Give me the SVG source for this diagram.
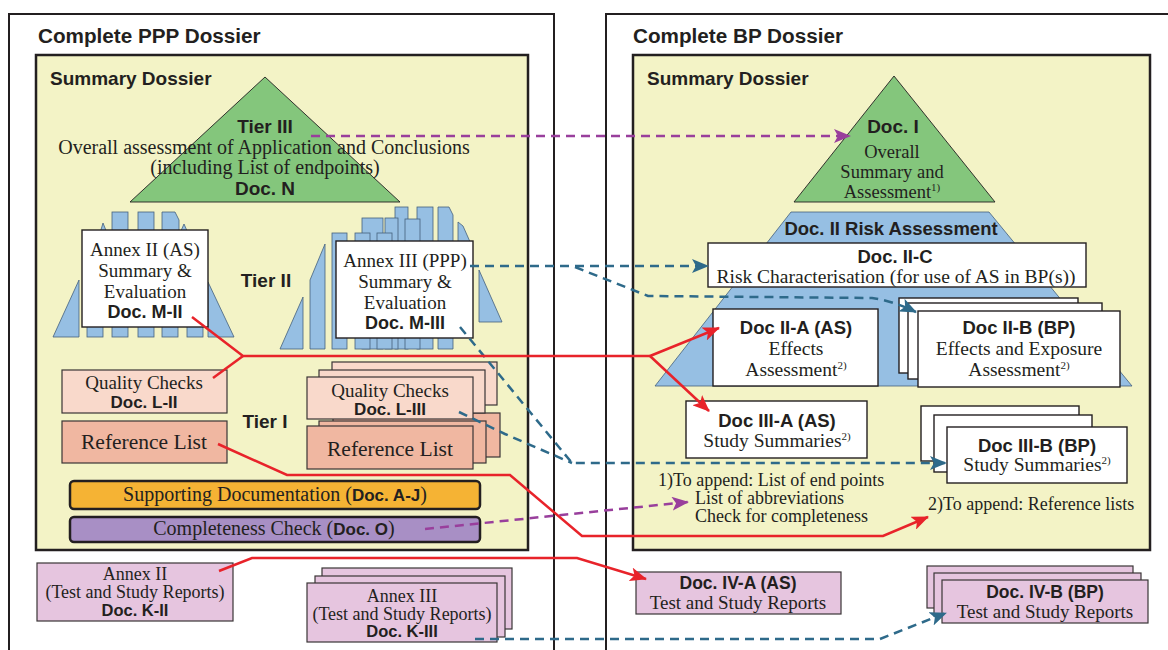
<svg xmlns="http://www.w3.org/2000/svg" width="1168" height="650" viewBox="0 0 1168 650">
  <style>
    .sb { font-family: "Liberation Sans", Arial, sans-serif; font-weight: bold; fill: #231f20; }
    .sr { font-family: "Liberation Serif", "Times New Roman", serif; fill: #231f20; }
    .frame { fill: #ffffff; stroke: #231f20; stroke-width: 2; }
    .yel { fill: #f3f3c6; stroke: #231f20; stroke-width: 2.5; }
    .grn { fill: #84c67c; stroke: #231f20; stroke-width: 0.9; }
    .blu { fill: #96bfe3; stroke: #44607c; stroke-width: 0.8; }
    .wbox { fill: #ffffff; stroke: #231f20; stroke-width: 1.4; }
    .qc { fill: #f9d9cb; stroke: #3a3536; stroke-width: 1.2; }
    .rl { fill: #f0b7a1; stroke: #3a3536; stroke-width: 1.2; }
    .mv { fill: #e6c5df; stroke: #3a3536; stroke-width: 1.2; }
    .red { fill: none; stroke: #e8232a; stroke-width: 2.5; }
    .pur { fill: none; stroke: #993f9c; stroke-width: 2.5; stroke-dasharray: 9 6; }
    .blue { fill: none; stroke: #2e6a8a; stroke-width: 2.5; stroke-dasharray: 9 6; }
    .sup { font-size: 11px; }
  </style>
  <defs>
    <marker id="ahRed" markerUnits="userSpaceOnUse" markerWidth="18" markerHeight="14" refX="16" refY="7" orient="auto">
      <path d="M0,0 L17,7 L0,14 L4,7 z" fill="#e8232a"/>
    </marker>
    <marker id="ahPur" markerUnits="userSpaceOnUse" markerWidth="18" markerHeight="14" refX="16" refY="7" orient="auto">
      <path d="M0,0 L17,7 L0,14 L4,7 z" fill="#993f9c"/>
    </marker>
    <marker id="ahBlue" markerUnits="userSpaceOnUse" markerWidth="18" markerHeight="14" refX="16" refY="7" orient="auto">
      <path d="M0,0 L17,7 L0,14 L4,7 z" fill="#2e6a8a"/>
    </marker>
  </defs>

  <rect width="1168" height="650" fill="#ffffff"/>

  <!-- ===== PPP dossier (left) ===== -->
  <g id="ppp-dossier">
    <rect class="frame" x="9" y="14" width="545" height="650"/>
    <text class="sb" x="38" y="43" font-size="20.7">Complete PPP Dossier</text>
    <rect class="yel" x="36" y="55" width="492" height="495"/>
    <text class="sb" x="50" y="85" font-size="19">Summary Dossier</text>
  </g>

  <g id="tier3-doc-n">
    <polygon class="grn" points="265,77 400,202 130,202"/>
    <text class="sb" x="265" y="133" font-size="19" text-anchor="middle">Tier III</text>
    <text class="sr" x="264" y="154" font-size="20" text-anchor="middle">Overall assessment of Application and Conclusions</text>
    <text class="sr" x="265" y="174" font-size="20" text-anchor="middle">(including List of endpoints)</text>
    <text class="sb" x="265" y="195" font-size="19" text-anchor="middle">Doc. N</text>
  </g>

  <g id="tier2-label">
    <text class="sb" x="266" y="287" font-size="19" text-anchor="middle">Tier II</text>
  </g>

  <!-- Annex II summary stack -->
  <g id="doc-m-ii">
    <g class="blu">
      <polygon points="53,337 79,280 79,337"/>
      <polygon points="208,282 234,337 208,337"/>
      <rect x="112" y="212" width="16" height="25"/>
      <rect x="138" y="212" width="16" height="25"/>
      <polygon points="162,212 175,212 179,220 179,237 162,237"/>
      <polygon points="100,233 103,223 107,233"/>
      <polygon points="180,233 184,224 188,233"/>
      <rect x="87" y="318" width="16" height="19"/>
      <rect x="112" y="318" width="16" height="19"/>
      <rect x="138" y="318" width="16" height="19"/>
      <rect x="162" y="318" width="16" height="19"/>
      <rect x="187" y="318" width="16" height="19"/>
    </g>
    <rect class="wbox" x="82" y="230" width="126" height="97"/>
    <text class="sr" x="145" y="256" font-size="19" text-anchor="middle">Annex II (AS)</text>
    <text class="sr" x="145" y="277" font-size="19" text-anchor="middle">Summary &amp;</text>
    <text class="sr" x="145" y="298" font-size="19" text-anchor="middle">Evaluation</text>
    <text class="sb" x="145" y="318" font-size="18" text-anchor="middle">Doc. M-II</text>
  </g>

  <!-- Annex III summary stack -->
  <g id="doc-m-iii">
    <g class="blu">
      <polygon points="280,349 303,297 303,349"/>
      <polygon points="310,349 310,280 325,244 325,349"/>
      <rect x="395" y="207" width="13" height="142"/>
      <rect x="417" y="207" width="16" height="142"/>
      <polygon points="438,207 449,207 453,215 453,349 438,349"/>
      <polygon points="458,222 463,226 471,244 458,244"/>
      <rect x="362" y="218" width="21" height="131"/>
      <rect x="385" y="218" width="13" height="131"/>
      <rect x="405" y="219" width="15" height="130"/>
      <rect x="332" y="233" width="15" height="116"/>
      <rect x="355" y="233" width="15" height="116"/>
      <rect x="377" y="233" width="15" height="116"/>
      <polygon points="479,270 502,322 479,322"/>
    </g>
    <rect class="wbox" x="336" y="241" width="137" height="97"/>
    <text class="sr" x="405" y="267" font-size="19" text-anchor="middle">Annex III (PPP)</text>
    <text class="sr" x="405" y="288" font-size="19" text-anchor="middle">Summary &amp;</text>
    <text class="sr" x="405" y="309" font-size="19" text-anchor="middle">Evaluation</text>
    <text class="sb" x="405" y="329" font-size="18" text-anchor="middle">Doc. M-III</text>
  </g>

  <g id="tier1-label">
    <text class="sb" x="265" y="428" font-size="19" text-anchor="middle">Tier I</text>
  </g>

  <g id="doc-l-ii">
    <rect class="qc" x="62" y="370" width="165" height="43"/>
    <text class="sr" x="144" y="389" font-size="19" text-anchor="middle">Quality Checks</text>
    <text class="sb" x="144" y="408" font-size="17" text-anchor="middle">Doc. L-II</text>
  </g>

  <g id="ref-list-ii">
    <rect class="rl" x="62" y="421" width="165" height="42"/>
    <text class="sr" x="144" y="449" font-size="21.5" text-anchor="middle">Reference List</text>
  </g>

  <!-- reference list pages sit behind the quality-check pages -->
  <g id="ref-list-iii">
    <rect class="rl" x="333" y="413" width="167" height="44"/>
    <rect class="rl" x="319" y="421" width="167" height="42"/>
    <rect class="rl" x="307" y="426" width="166" height="43"/>
    <text class="sr" x="390" y="456" font-size="21.5" text-anchor="middle">Reference List</text>
  </g>

  <g id="doc-l-iii">
    <rect class="qc" x="332" y="362" width="165" height="43"/>
    <rect class="qc" x="319" y="370" width="166" height="43"/>
    <rect class="qc" x="307" y="377" width="166" height="42"/>
    <text class="sr" x="390" y="397" font-size="19" text-anchor="middle">Quality Checks</text>
    <text class="sb" x="390" y="415" font-size="17" text-anchor="middle">Doc. L-III</text>
  </g>

  <g id="doc-a-j">
    <rect x="70" y="481" width="410" height="28" rx="4" fill="#f5b334" stroke="#231f20" stroke-width="2.5"/>
    <text class="sr" x="275" y="501" font-size="20" text-anchor="middle">Supporting Documentation (<tspan class="sb" font-size="17">Doc. A-J</tspan>)</text>
  </g>

  <g id="doc-o">
    <rect x="70" y="517" width="410" height="25" rx="4" fill="#a88fc5" stroke="#231f20" stroke-width="2.5"/>
    <text class="sr" x="274" y="535" font-size="20" text-anchor="middle">Completeness Check (<tspan class="sb" font-size="17">Doc. O</tspan>)</text>
  </g>

  <g id="doc-k-ii">
    <rect class="mv" x="37" y="563" width="196" height="58"/>
    <text class="sr" x="135" y="580" font-size="18" text-anchor="middle">Annex II</text>
    <text class="sr" x="135" y="598" font-size="18" text-anchor="middle">(Test and Study Reports)</text>
    <text class="sb" x="135" y="616" font-size="16.5" text-anchor="middle">Doc. K-II</text>
  </g>

  <g id="doc-k-iii">
    <rect class="mv" x="322" y="568" width="190" height="61"/>
    <rect class="mv" x="315" y="576" width="190" height="61"/>
    <rect class="mv" x="307" y="583" width="190" height="59"/>
    <text class="sr" x="402" y="602" font-size="18" text-anchor="middle">Annex III</text>
    <text class="sr" x="402" y="620" font-size="18" text-anchor="middle">(Test and Study Reports)</text>
    <text class="sb" x="402" y="637" font-size="16.5" text-anchor="middle">Doc. K-III</text>
  </g>

  <!-- ===== BP dossier (right) ===== -->
  <g id="bp-dossier">
    <rect class="frame" x="606" y="14" width="600" height="650"/>
    <text class="sb" x="633" y="43" font-size="20.7">Complete BP Dossier</text>
    <rect class="yel" x="633" y="55" width="517" height="495"/>
    <text class="sb" x="647" y="85" font-size="19">Summary Dossier</text>
  </g>

  <g id="doc-i">
    <polygon class="grn" points="894,76 995,202 794,202"/>
    <text class="sb" x="893" y="133" font-size="19" text-anchor="middle">Doc. I</text>
    <text class="sr" x="892" y="158" font-size="18.5" text-anchor="middle">Overall</text>
    <text class="sr" x="892" y="178" font-size="18.5" text-anchor="middle">Summary and</text>
    <text class="sr" x="892" y="198" font-size="18.5" text-anchor="middle">Assessment<tspan class="sup" dy="-7">1)</tspan></text>
  </g>

  <g id="doc-ii">
    <polygon class="blu" points="791,212 989,212 1132,386 655,386"/>
    <text class="sb" x="891" y="235" font-size="18.5" text-anchor="middle">Doc. II Risk Assessment</text>
  </g>

  <g id="doc-ii-c">
    <rect class="wbox" x="708" y="243" width="378" height="44"/>
    <text class="sb" x="895" y="263" font-size="18.5" text-anchor="middle">Doc. II-C</text>
    <text class="sr" x="896" y="283" font-size="19.5" text-anchor="middle">Risk Characterisation (for use of AS in BP(s))</text>
  </g>

  <g id="doc-ii-a">
    <rect class="wbox" x="713" y="309" width="165" height="77"/>
    <text class="sb" x="796" y="334" font-size="18.5" text-anchor="middle">Doc II-A (AS)</text>
    <text class="sr" x="796" y="355" font-size="19.5" text-anchor="middle">Effects</text>
    <text class="sr" x="796" y="376" font-size="19.5" text-anchor="middle">Assessment<tspan class="sup" dy="-7">2)</tspan></text>
  </g>

  <g id="doc-ii-b">
    <rect class="wbox" x="899" y="298" width="179" height="75"/>
    <rect class="wbox" x="908" y="303" width="194" height="76"/>
    <rect class="wbox" x="918" y="311" width="202" height="76"/>
    <text class="sb" x="1019" y="334" font-size="18.5" text-anchor="middle">Doc II-B (BP)</text>
    <text class="sr" x="1019" y="355" font-size="19.5" text-anchor="middle">Effects and Exposure</text>
    <text class="sr" x="1019" y="376" font-size="19.5" text-anchor="middle">Assessment<tspan class="sup" dy="-7">2)</tspan></text>
  </g>

  <g id="doc-iii-a">
    <rect class="wbox" x="686" y="401" width="181" height="57"/>
    <text class="sb" x="777" y="427" font-size="18.5" text-anchor="middle">Doc III-A (AS)</text>
    <text class="sr" x="777" y="447" font-size="19.5" text-anchor="middle">Study Summaries<tspan class="sup" dy="-7">2)</tspan></text>
  </g>

  <g id="doc-iii-b">
    <rect class="wbox" x="921" y="406" width="158" height="55"/>
    <rect class="wbox" x="934" y="415" width="158" height="57"/>
    <rect class="wbox" x="947" y="427" width="180" height="56"/>
    <text class="sb" x="1037" y="452" font-size="18.5" text-anchor="middle">Doc III-B (BP)</text>
    <text class="sr" x="1037" y="471" font-size="19.5" text-anchor="middle">Study Summaries<tspan class="sup" dy="-7">2)</tspan></text>
  </g>

  <g id="notes">
    <text class="sr" x="658" y="486" font-size="18">1)To append: List of end points</text>
    <text class="sr" x="695" y="504" font-size="18">List of abbreviations</text>
    <text class="sr" x="695" y="522" font-size="18">Check for completeness</text>
    <text class="sr" x="928" y="510" font-size="18">2)To append: Reference lists</text>
  </g>

  <g id="doc-iv-a">
    <rect class="mv" x="636" y="572" width="205" height="42"/>
    <text class="sb" x="738" y="589" font-size="17.5" text-anchor="middle">Doc. IV-A (AS)</text>
    <text class="sr" x="738" y="609" font-size="19" text-anchor="middle">Test and Study Reports</text>
  </g>

  <g id="doc-iv-b">
    <rect class="mv" x="927" y="566" width="206" height="42"/>
    <rect class="mv" x="934" y="573" width="207" height="43"/>
    <rect class="mv" x="942" y="580" width="206" height="43"/>
    <text class="sb" x="1045" y="598" font-size="17.5" text-anchor="middle">Doc. IV-B (BP)</text>
    <text class="sr" x="1045" y="618" font-size="19" text-anchor="middle">Test and Study Reports</text>
  </g>

  <!-- ===== connectors ===== -->
  <g id="connectors">
    <!-- Doc. N to Doc. I -->
    <path class="pur" d="M311,136 L850,136" marker-end="url(#ahPur)"/>
    <!-- Doc. O to notes -->
    <path class="pur" d="M425,529 L688,502" marker-end="url(#ahPur)"/>

    <!-- Doc. M-III to Doc. II-C and Doc. II-B -->
    <path class="blue" d="M470,266 L708,266" marker-end="url(#ahBlue)"/>
    <path class="blue" d="M575,267 L648,296 L872,298 Q893,301 916,312" marker-end="url(#ahBlue)"/>
    <!-- Doc. M-III and Doc. L-III to Doc. III-B -->
    <path class="blue" d="M460,327 L572,463 L946,463" marker-end="url(#ahBlue)"/>
    <path class="blue" d="M459,412 L505,434 L572,463"/>
    <!-- Doc. K-III to Doc. IV-B -->
    <path class="blue" d="M475,639 L880,639 L946,613" marker-end="url(#ahBlue)"/>

    <!-- Doc. M-II / Doc. L-II to Doc. II-A and Doc. III-A -->
    <path class="red" d="M192,317 L243,356 L650,356"/>
    <path class="red" d="M213,378 L243,356"/>
    <path class="red" d="M650,356 L719,328" marker-end="url(#ahRed)"/>
    <path class="red" d="M650,356 L709,411" marker-end="url(#ahRed)"/>
    <!-- Reference List to note 2) -->
    <path class="red" d="M218,444 L287,475 L510,475 L582,536 L883,536 L928,517" marker-end="url(#ahRed)"/>
    <!-- Doc. K-II to Doc. IV-A -->
    <path class="red" d="M219,571 L252,558 L577,558 L646,579" marker-end="url(#ahRed)"/>
  </g>
</svg>
